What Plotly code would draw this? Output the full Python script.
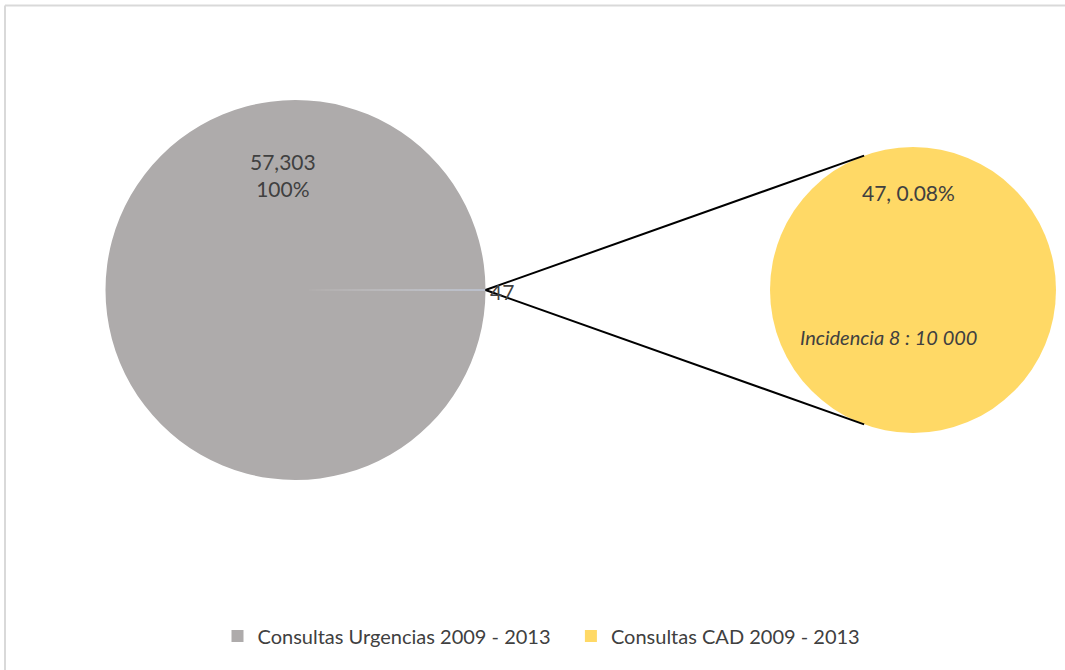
import math
import plotly.graph_objects as go

# Data
main_labels = ["Consultas CAD 2009 - 2013", "Consultas Urgencias 2009 - 2013"]
main_values = [47, 57303]
sub_labels = ["Consultas CAD 2009 - 2013"]
sub_values = [47]
incidence_text = "Incidencia 8 : 10 000"

W, H = 1065, 670
GRAY = "#aeabab"
YELLOW = "#ffd966"
SLIVER = "#8faadc"
TXT = "#404040"
FONT = "Lato"

# Pie geometry in pixels (center x, center y from top, radius)
big = (295.5, 290.0, 190.0)
small = (913.0, 290.0, 143.0)


def domain(c):
    cx, cy, r = c
    return dict(x=[(cx - r) / W, (cx + r) / W], y=[1 - (cy + r) / H, 1 - (cy - r) / H])


total = sum(main_values)
sliver_deg = 360.0 * main_values[0] / total

fig = go.Figure()
fig.add_trace(go.Pie(
    labels=main_labels, values=main_values, sort=False, direction="clockwise",
    rotation=90 - sliver_deg / 2, domain=domain(big), textinfo="none",
    marker=dict(colors=[SLIVER, GRAY], line=dict(width=0)),
    showlegend=False, hoverinfo="label+value",
))
fig.add_trace(go.Pie(
    labels=sub_labels, values=sub_values, sort=False, domain=domain(small),
    textinfo="none", marker=dict(colors=[YELLOW], line=dict(width=0)),
    showlegend=False, hoverinfo="label+value",
))

# Legend entries (non-breaking spaces widen the gap between items)
legend_items = [(main_labels[1] + "\u00a0" * 3, GRAY), (sub_labels[0], YELLOW)]
for name, col in legend_items:
    fig.add_trace(go.Scatter(
        x=[None], y=[None], mode="markers", name=name,
        marker=dict(symbol="square", size=11, color=col),
    ))

# Connector lines from the sliver tip to the secondary pie
bx, by, br = big
sx, sy, sr = small
tip = (bx + br, by)
shapes = []
for ang in (110, -110):
    ex = sx + sr * math.cos(math.radians(ang))
    ey = sy - sr * math.sin(math.radians(ang))
    shapes.append(dict(type="line", xref="paper", yref="paper",
                       x0=tip[0] / W, y0=1 - tip[1] / H, x1=ex / W, y1=1 - ey / H,
                       line=dict(color="black", width=2)))
# Chart frame (top and left edges)
shapes.append(dict(type="line", xref="paper", yref="paper", x0=5 / W, y0=1 - 5.5 / H,
                   x1=1.0, y1=1 - 5.5 / H, line=dict(color="#d9d9d9", width=2)))
shapes.append(dict(type="line", xref="paper", yref="paper", x0=5 / W, y0=1 - 5.5 / H,
                   x1=5 / W, y1=0, line=dict(color="#d9d9d9", width=2)))


def ann(x, y, text, size=21, italic=False, xanchor="center"):
    return dict(x=x / W, y=1 - y / H, xref="paper", yref="paper", text=text,
                showarrow=False, xanchor=xanchor, yanchor="middle",
                font=dict(family=FONT, size=size, color=TXT,
                          style="italic" if italic else "normal"))


share = main_values[1] / total
annotations = [
    ann(283, 175, f"{main_values[1]:,}<br>{share:.0%}"),
    ann(488, 291, f"{main_values[0]}", xanchor="left"),
    ann(908, 193, f"{sub_values[0]}, {sub_values[0] / total:.2%}"),
    ann(888, 337, incidence_text, size=20, italic=True),
]

fig.update_layout(
    width=W, height=H, margin=dict(l=0, r=0, t=0, b=0),
    paper_bgcolor="white", plot_bgcolor="white",
    xaxis=dict(visible=False), yaxis=dict(visible=False),
    shapes=shapes, annotations=annotations,
    legend=dict(orientation="h", x=0.5 + 9 / W, xanchor="center", y=1 - 636 / H,
                yanchor="middle", font=dict(family=FONT, size=20, color=TXT),
                itemsizing="constant", bgcolor="rgba(0,0,0,0)", itemwidth=30,
                tracegroupgap=0),
    showlegend=True,
)

fig.write_html("out.html")
